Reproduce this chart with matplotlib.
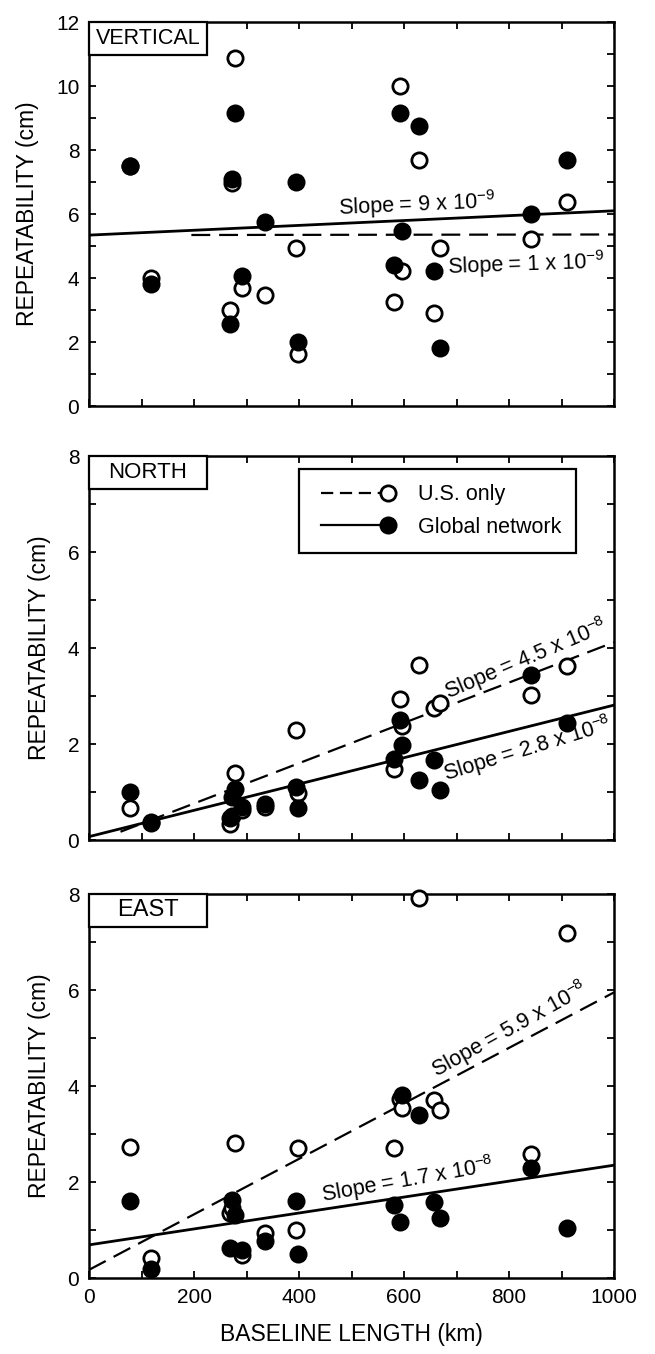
import numpy as np
import matplotlib
matplotlib.use('Agg')
import matplotlib.pyplot as plt
from matplotlib.lines import Line2D
from matplotlib.patches import Rectangle
from matplotlib.legend_handler import HandlerLine2D

plt.rcParams['font.family'] = ['Liberation Sans', 'DejaVu Sans']
plt.rcParams['mathtext.default'] = 'regular'

# ---------------- data ----------------
baseline_km = [78, 118, 268, 273, 279, 292, 335, 395, 399, 580, 592, 597, 628, 658, 668, 841, 910]

vert_us     = [7.5, 3.99, 2.99, 6.96, 10.88, 3.69, 3.47, 4.95, 1.63, 3.25, 10.0, 4.23, 7.70, 2.92, 4.93, 5.21, 6.37]
vert_global = [7.5, 3.80, 2.56, 7.10, 9.15, 4.07, 5.74, 7.00, 2.00, 4.41, 9.17, 5.48, 8.76, 4.23, 1.81, 6.01, 7.68]

north_us     = [0.67, 0.36, 0.34, 0.50, 1.39, 0.62, 0.69, 2.29, 0.97, 1.48, 2.93, 2.38, 3.64, 2.74, 2.85, 3.03, 3.62]
north_global = [1.00, 0.38, 0.46, 0.90, 1.07, 0.69, 0.76, 1.10, 0.67, 1.69, 2.50, 1.97, 1.24, 1.67, 1.05, 3.43, 2.43]

east_us     = [2.72, 0.41, 1.35, 1.45, 2.81, 0.48, 0.93, 1.00, 2.71, 2.71, 3.72, 3.55, 7.91, 3.70, 3.50, 2.59, 7.18]
east_global = [1.60, 0.19, 0.62, 1.62, 1.31, 0.59, 0.77, 1.60, 0.50, 1.52, 1.17, 3.81, 3.39, 1.59, 1.26, 2.29, 1.05]

# regression lines: (intercept cm, slope cm/km)
vert_us_fit      = (5.34, 0.00002)
vert_global_fit  = (5.34, 0.00076)
north_us_fit     = (-0.08, 0.0042)
north_global_fit = (0.07, 0.00274)
east_us_fit      = (0.17, 0.00578)
east_global_fit  = (0.69, 0.00166)

panel_names = ['VERTICAL', 'NORTH', 'EAST']
panel_ymax = [12, 8, 8]
us_labels = [r'Slope = 1 x 10$^{-9}$', r'Slope = 4.5 x 10$^{-8}$', r'Slope = 5.9 x 10$^{-8}$']
global_labels = [r'Slope = 9 x 10$^{-9}$', r'Slope = 2.8 x 10$^{-8}$', r'Slope = 1.7 x 10$^{-8}$']
legend_labels = ['U.S. only', 'Global network']
x_label = 'BASELINE LENGTH (km)'
y_label = 'REPEATABILITY (cm)'

# ---------------- layout / style ----------------
W, H = 655, 1354
fig = plt.figure(figsize=(W / 100, H / 100), dpi=100)
left, right = 89, 614
tops = [22, 456, 894]
ph = 384

us_sets = [vert_us, north_us, east_us]
gl_sets = [vert_global, north_global, east_global]
us_fits = [vert_us_fit, north_us_fit, east_us_fit]
gl_fits = [vert_global_fit, north_global_fit, east_global_fit]
us_line_start = [195, 60, 0]
us_lab_pos = [(833, 4.43, 2), (833, 3.76, 23), (802, 5.17, 29)]
gl_lab_pos = [(625, 6.29, 2.5), (836, 1.90, 17), (607, 2.03, 10)]
name_sizes = [15.5, 16, 17]
DASH = (0, (8.5, 4))


class EndMarker(HandlerLine2D):
    def create_artists(self, *args, **kw):
        arts = super().create_artists(*args, **kw)
        for a in arts:
            n = len(a.get_xdata())
            a.set_markevery([n - 1])
        return arts


for i in range(3):
    ax = fig.add_axes([left / W, 1 - (tops[i] + ph) / H, (right - left) / W, ph / H])
    ax.set_xlim(0, 1000)
    ax.set_ylim(0, panel_ymax[i])

    xs = np.array([0.0, 1000.0])
    a, b = us_fits[i]
    xu = np.array([float(us_line_start[i]), 1000.0])
    ax.plot(xu, a + b * xu, color='black', lw=1.6, ls=DASH, zorder=2)
    a2, b2 = gl_fits[i]
    ax.plot(xs, a2 + b2 * xs, color='black', lw=2.0, ls='-', zorder=2.1)

    ax.plot(baseline_km, us_sets[i], ls='none', marker='o', ms=11.0, mfc='white',
            mec='black', mew=2.0, zorder=3, clip_on=False)
    ax.plot(baseline_km, gl_sets[i], ls='none', marker='o', ms=13, mfc='black',
            mec='black', mew=0, zorder=4, clip_on=False)

    tx, ty, rot = us_lab_pos[i]
    ax.text(tx, ty, us_labels[i], fontsize=15.5, rotation=rot, rotation_mode='anchor',
            ha='center', va='center', zorder=5)
    tx, ty, rot = gl_lab_pos[i]
    ax.text(tx, ty, global_labels[i], fontsize=15.5, rotation=rot, rotation_mode='anchor',
            ha='center', va='center', zorder=5)

    # ticks
    ax.set_xticks(np.arange(0, 1001, 100))
    ax.set_yticks(np.arange(0, panel_ymax[i] + 1, 1))
    ax.set_yticklabels([str(v) if v % 2 == 0 else '' for v in range(0, panel_ymax[i] + 1)])
    if i == 2:
        ax.set_xticklabels([str(v) if v % 200 == 0 else '' for v in range(0, 1001, 100)])
        ax.set_xlabel(x_label, fontsize=16.5, labelpad=12)
    else:
        ax.set_xticklabels([])
    ax.tick_params(direction='in', length=5, width=1.3, top=True, right=True,
                   labelsize=15, pad=7)
    for s in ax.spines.values():
        s.set_linewidth(1.8)
    ax.set_ylabel(y_label, fontsize=16.5, labelpad=12)

    # panel name box
    bh = 33 / ph
    ax.add_patch(Rectangle((0, 1 - bh), 0.225, bh, transform=ax.transAxes,
                           facecolor='white', edgecolor='black', lw=1.6, zorder=6,
                           clip_on=False))
    ax.text(0.1125, 1 - bh / 2, panel_names[i], transform=ax.transAxes,
            fontsize=name_sizes[i], ha='center', va='center', zorder=7)

    if i == 1:
        h_us = Line2D([], [], color='black', lw=1.6, ls=(0, (5.5, 3)), marker='o',
                      ms=11.0, mfc='white', mec='black', mew=2.0)
        h_gl = Line2D([], [], color='black', lw=1.6, ls='-', marker='o',
                      ms=13, mfc='black', mec='black', mew=0)
        leg = ax.legend([h_us, h_gl], legend_labels, loc='upper right',
                        bbox_to_anchor=(0.928, 0.966), borderaxespad=0,
                        fontsize=15.5, numpoints=2, handlelength=3.7,
                        handletextpad=1.1, borderpad=0.7, labelspacing=0.55,
                        fancybox=False, framealpha=1, edgecolor='black',
                        handler_map={Line2D: EndMarker()})
        leg.get_frame().set_linewidth(1.6)
        leg.set_zorder(8)

fig.savefig('out.png', dpi=100)
